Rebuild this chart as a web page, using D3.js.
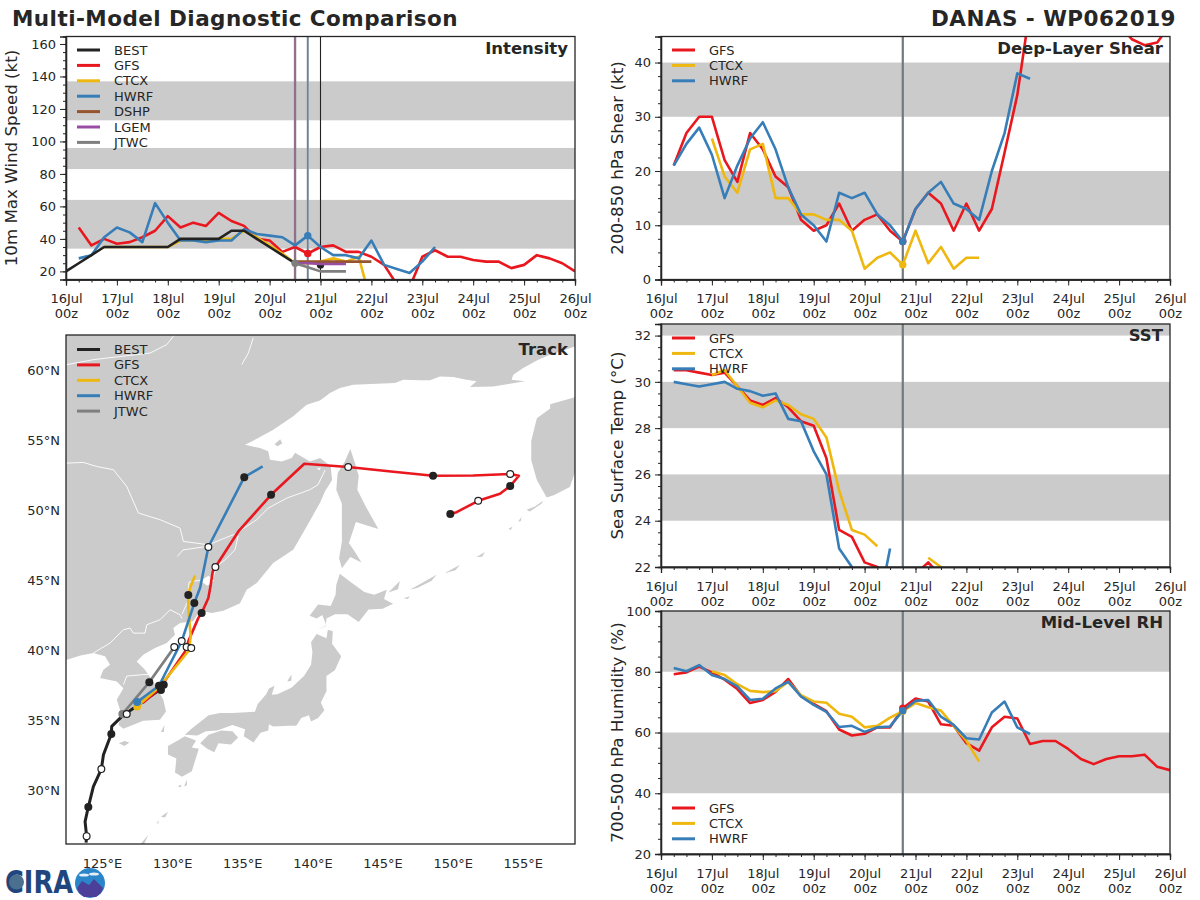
<!DOCTYPE html>
<html>
<head>
<meta charset="utf-8">
<script src="https://cdn.jsdelivr.net/npm/d3@7"></script>
<style>
  html, body { margin: 0; padding: 0; background: #fff; }
  text { font-family: "DejaVu Sans", sans-serif; fill: #262626; }
</style>
</head>
<body>
<div class="canvas"></div>
<script>
// forecast values, one entry per 6 h starting 16 Jul 00z (null = no data)
const stepHours = 6;
const startTime = Date.UTC(2019, 6, 16, 0);
const endTime = Date.UTC(2019, 6, 26, 0);

const windBest = [20, 25, 30, 35, 35, 35, 35, 35, 35, 40, 40, 40, 40, 45, 45, 40, 35, 30, 25];
const windGfs = [null, 47, 36, 40, 37, 38, 41, 45, 54, 47, 50, 48, 56, 51, 48, 40, 39, 32, 35, 31, 35, 36, 32, 32, 29, 24, 12, 10, 29, 33, 29, 29, 27, 26, 26, 22, 24, 30, 28, 25, 20];
const windCtcx = [null, null, null, 35, 35, 35, 35, 35, 35, 39, 39, 39, 40, 40, 45, 41, 36, 31, 25, 25, 26, 28, 26, 29, 0];
const windHwrf = [null, 28, 30, 41, 47, 44, 38, 62, 50, 39, 39, 38, 39, 39, 46, 43, 42, 41, 36, 42, 35, 30, 30, 28, 39, 24, 21.5, 19, 26, 35];
const windDshp = [null, null, null, null, null, null, null, null, null, null, null, null, null, null, null, null, null, null, 26, 26, 26, 26, 26, 26, 26];
const windLgem = [null, null, null, null, null, null, null, null, null, null, null, null, null, null, null, null, null, null, 25, 25, 24.5, 24.5, 24.5];
const windJtwc = [null, null, null, null, null, null, null, null, null, null, null, null, null, null, null, null, null, null, 25, 22.5, 20, 20, 20];

const shearGfs = [null, 21, 27, 30, 30, 22, 18, 27, 24, 19, 17, 11, 9, 10, 14, 9, 11, 12, 9, 7, 13, 16, 14, 9, 14, 9, 13, 23.4, 34, 50, 55, 58, 58, 56, 54, 52, 47, 44.3, 43.2, 43.7, 47];
const shearCtcx = [null, null, null, null, 26, 19, 16, 24, 25, 15, 15, 12, 12, 11, 11, 9, 2, 4, 5, 2.7, 9, 3, 6, 2, 4, 4];
const shearHwrf = [null, 21, 25, 28, 23, 15, 21, 26, 29, 24, 17, 12, 10, 7, 16, 15, 16, 12, 10, 7, 13, 16, 18, 14, 13, 11, 20, 27, 38, 37];

const sstGfs = [null, 30.5, 30.5, 30.4, 30.3, 30.4, 29.8, 29.2, 29.0, 29.3, 28.9, 28.3, 28.1, 26.7, 23.6, 23.3, 22.2, 22.0, 21.5, 21.5, 21.7, 22.2, 21.6, 21.4];
const sstCtcx = [null, null, null, null, 30.3, 30.5, 29.8, 29.1, 28.9, 29.2, 29.0, 28.6, 28.4, 27.6, 25.3, 23.6, 23.4, 22.9, null, null, null, 22.4, 22.0, 21.5];
const sstHwrf = [null, 30.0, 29.9, 29.8, 29.9, 30.0, 29.7, 29.6, 29.4, 29.5, 28.4, 28.3, 27.0, 26.0, 22.8, 22.0, 20.5, 20.0, 22.8];

const rhGfs = [null, 79.2, 79.8, 81.7, 79.8, 77.4, 74.3, 69.7, 70.7, 73.4, 77.6, 72, 69.4, 67, 61, 59, 59.6, 61.7, 61.7, 68, 71.2, 70.2, 62.7, 62.2, 56.5, 54, 61.7, 65.2, 64.6, 56.2, 57.2, 57.2, 54.6, 51.3, 49.6, 51.3, 52.2, 52.2, 52.7, 48.7, 47.6];
const rhCtcx = [null, null, null, null, 80.2, 78.9, 75.9, 73.7, 73.3, 73.6, 76.7, 72.3, 70.2, 69.8, 66.2, 65.2, 61.7, 62.2, 64.9, 67, 69.7, 68.3, 67.2, 62.2, 57.3, 50.4];
const rhHwrf = [null, 81.2, 80.2, 82.2, 78.9, 77.6, 75.2, 70.7, 71.1, 74.5, 76.7, 71.9, 69.1, 66.8, 61.8, 62.2, 60.2, 61.7, 62, 67.2, 70.4, 70.7, 65.2, 62.5, 58.1, 57.7, 66.6, 70.2, 61.7, 59.5];

// [model, step, value] dots at each model's initial time
const windDots = [['GFS', 19, 31], ['HWRF', 19, 42], ['JTWC', 18, 25]];
const windLowDots = [['BEST', 20, 24]];
const shearDots = [['GFS', 19, 7], ['CTCX', 19, 2.7], ['HWRF', 19, 7]];
const rhDots = [['GFS', 19, 68], ['CTCX', 19, 67], ['HWRF', 19, 67.2]];

const windBands = [[34, 64], [83, 96], [113, 137]];
const shearBands = [[10, 20], [30, 40]];
const sstBands = [[24, 26], [28, 30], [32, 33]];
const rhBands = [[40, 60], [80, 100]];

const windTicks = [20, 40, 60, 80, 100, 120, 140, 160];
const shearTicks = [0, 10, 20, 30, 40];
const sstTicks = [22, 24, 26, 28, 30, 32];
const rhTicks = [20, 40, 60, 80, 100];

const latTicks = [30, 35, 40, 45, 50, 55, 60];
const lonTicks = [125, 130, 135, 140, 145, 150, 155];

// tracks, [lon, lat]
const trackBest = [[123.86, 26.3], [123.9, 26.76], [123.79, 27.8], [124.02, 28.84], [124.38, 30.3], [124.95, 31.55], [125.1, 32.57], [125.66, 34.05], [125.69, 34.6], [126.4, 35.3], [127.59, 36.14], [129.0, 37.14], [129.2, 37.2]];
const trackGfs = [[127.9, 36.26], [129.1, 37.3], [130.92, 39.95], [131.15, 40.67], [131.86, 42.33], [132.1, 42.7], [132.58, 43.77], [132.75, 44.72], [132.89, 45.66], [133.08, 45.98], [134.72, 48.52], [137.05, 51.14], [139.42, 53.36], [142.55, 53.12], [145.6, 52.8], [148.6, 52.5], [151.46, 52.52], [154.1, 52.62], [154.72, 52.5], [154.1, 51.76], [153.37, 51.21], [151.82, 50.71], [150.28, 49.9], [149.83, 49.76]];
const trackCtcx = [[127.5, 36.02], [129.06, 37.4], [131.2, 40.02], [131.32, 41.02], [131.15, 43.05], [131.15, 43.98], [131.27, 44.48], [131.63, 45.38]];
const trackHwrf = [[127.5, 36.34], [129.06, 37.5], [130.68, 40.69], [131.58, 43.41], [131.99, 44.5], [132.58, 47.41], [135.14, 52.4], [136.45, 53.16]];
const trackJtwc = [[126.45, 35.48], [128.37, 37.76], [130.15, 40.26]];

// 12-hourly position dots along the tracks
const dotsOpen = [[123.9, 26.76], [124.95, 31.55], [126.76, 35.48], [131.03, 40.26], [133.08, 45.98], [142.55, 53.12], [154.1, 52.62], [151.82, 50.71], [131.36, 40.19], [130.68, 40.69], [132.58, 47.41], [130.15, 40.26]];
const dotsFilled = [[124.02, 28.84], [125.66, 34.05], [129.2, 37.2], [129.4, 37.57], [132.1, 42.7], [137.05, 51.14], [148.6, 52.5], [154.1, 51.76], [149.83, 49.76], [129.06, 37.5], [131.15, 43.98], [131.58, 43.41], [135.14, 52.4], [128.37, 37.76]];
const dotsStart = [['CTCX', 127.5, 36.02], ['HWRF', 127.5, 36.34], ['JTWC', 126.45, 35.48]];

// land outlines, [lon, lat]
const mainland = [[165, 61.74], [158.73, 61.74], [156.93, 61.14], [156.1, 60.79], [155.03, 60.19], [154.32, 59.71], [154.2, 59.36], [155.15, 59.24], [154.08, 59.07], [152.89, 58.88], [151.23, 58.84], [151.7, 59.24], [150.99, 59.36], [150.04, 59.55], [149.09, 59.59], [148.38, 59.31], [147.67, 59.31], [146.48, 59.36], [145.88, 59.12], [142.91, 59.0], [141.96, 58.76], [141.25, 58.41], [140.54, 57.88], [139.59, 57.57], [138.63, 56.74], [137.21, 55.79], [135.67, 54.95], [135.19, 54.71], [136.26, 54.48], [136.85, 54.24], [136.97, 53.64], [137.8, 53.52], [138.52, 53.76], [138.76, 54.14], [139.82, 53.52], [140.54, 53.76], [141.3, 53.2], [141.4, 52.2], [140.9, 51.4], [140.54, 50.57], [139.6, 48.9], [138.63, 47.21], [137.2, 46.26], [136.03, 44.84], [135.31, 44.36], [134.84, 43.4], [133.65, 42.86], [132.82, 42.69], [131.98, 42.86], [131.5, 42.1], [130.56, 41.98], [130.08, 41.62], [130.2, 41.14], [129.61, 40.55], [128.78, 40.2], [127.94, 39.71], [127.47, 39.24], [128.06, 38.64], [128.78, 37.57], [129.37, 36.5], [129.56, 35.66], [129.13, 35.07], [127.94, 35.0], [126.52, 34.43], [126.17, 34.71], [126.4, 35.43], [126.05, 36.5], [126.52, 37.33], [126.05, 37.81], [124.86, 38.05], [125.09, 38.64], [125.57, 39.0], [125.21, 39.6], [124.38, 39.84], [123.46, 39.66], [122.5, 39.36], [120, 39.36], [120, 65], [165, 65]];
const kamchatka = [[165, 58.1], [158.7, 58.1], [156.95, 57.6], [156.95, 57.3], [156.0, 56.6], [155.6, 55], [155.6, 53.6], [156.0, 52.2], [156.7, 50.95], [157.2, 51.1], [158.35, 51.7], [158.7, 52.7], [165, 53]];
const honshu = [[130.9, 34.0], [131.4, 34.45], [132.6, 35.4], [133.4, 35.55], [134.3, 35.55], [135.3, 35.6], [135.9, 35.65], [136.1, 36.2], [136.7, 36.9], [136.9, 37.3], [137.3, 37.5], [137.1, 36.85], [137.5, 36.9], [138.5, 37.35], [139.4, 38.2], [139.9, 39.0], [140.0, 39.9], [139.9, 40.6], [140.3, 41.2], [141.0, 40.9], [141.1, 41.5], [141.45, 41.4], [141.4, 40.5], [142.05, 39.6], [141.6, 38.6], [141.0, 38.2], [141.0, 37.1], [140.6, 36.3], [140.85, 35.75], [140.4, 35.2], [139.9, 34.95], [139.75, 35.4], [139.2, 35.2], [138.85, 34.65], [138.3, 34.65], [137.2, 34.6], [136.9, 34.75], [136.85, 34.3], [136.3, 34.15], [135.8, 33.45], [135.1, 33.9], [135.2, 34.4], [134.3, 34.7], [133.2, 34.3], [132.4, 34.25], [131.8, 33.95]];
const hokkaido = [[140.3, 41.5], [141.0, 41.8], [140.7, 42.55], [140.3, 42.3], [139.8, 42.5], [140.4, 43.3], [141.3, 43.2], [141.65, 44.0], [141.7, 44.7], [141.95, 45.5], [142.6, 45.0], [143.7, 44.2], [144.4, 44.0], [145.3, 44.35], [145.1, 43.7], [145.75, 43.35], [145.0, 43.0], [144.0, 42.95], [143.3, 42.05], [142.5, 42.6], [141.6, 42.6], [141.0, 42.3], [140.95, 41.75]];
const sakhalin = [[142.7, 54.4], [143.0, 53.5], [143.3, 52.5], [143.2, 51.5], [143.8, 50.3], [144.7, 48.7], [143.1, 49.2], [142.6, 47.7], [143.0, 47.1], [143.5, 46.3], [142.7, 46.7], [142.1, 45.9], [141.9, 46.6], [142.1, 47.8], [142.1, 49.0], [142.1, 50.5], [141.7, 51.5], [141.8, 52.7], [142.3, 53.5]];
const kyushu = [[130.9, 33.9], [131.7, 33.6], [131.4, 33.1], [131.9, 33.0], [131.4, 31.4], [130.7, 31.0], [130.2, 31.3], [130.3, 32.3], [129.7, 32.6], [129.7, 33.2], [130.4, 33.6]];
const shikoku = [[132.0, 33.4], [132.6, 34.0], [133.5, 34.3], [134.3, 34.25], [134.7, 33.8], [134.2, 33.3], [133.3, 33.4], [133.0, 32.75], [132.5, 33.0]];
const smallIslands = [
  [[126.2, 33.4], [126.6, 33.55], [126.95, 33.45], [126.6, 33.2]],
  [[129.2, 34.2], [129.45, 34.7], [129.4, 34.2]],
  [[138.2, 37.8], [138.5, 38.3], [138.5, 37.85]],
  [[130.85, 30.3], [131.05, 30.8], [131.05, 30.4]],
  [[130.4, 30.3], [130.6, 30.45], [130.65, 30.25]],
  [[129.2, 28.15], [129.7, 28.5], [129.5, 28.1]],
  [[128.9, 27.7], [129.05, 27.9], [129.0, 27.65]],
  [[127.7, 26.15], [128.3, 26.85], [128.0, 26.2]],
  [[137.3, 54.75], [137.7, 55.1], [137.85, 54.8], [137.5, 54.6]],
  [[155.27, 50.07], [155.86, 50.3], [156.45, 50.71], [156.33, 50.5], [155.5, 49.95]],
  [[154.67, 49.24], [154.9, 49.55], [154.85, 49.25]],
  [[153.96, 48.69], [154.27, 48.88], [154.15, 48.65]],
  [[151.7, 46.69], [152.3, 47.05], [152.1, 46.72]],
  [[149.45, 45.55], [150.52, 46.14], [150.2, 45.75]],
  [[146.95, 44.36], [148.85, 45.43], [148.5, 45.0], [147.5, 44.5]],
  [[145.41, 44.16], [146.24, 44.98], [146.1, 44.4]],
  [[146.5, 43.75], [146.95, 43.9], [146.8, 43.7]]
];
const lakes = [
  [[132.0, 45.0], [132.6, 45.35], [133.0, 45.0], [132.5, 44.65]],
  [[140.3, 53.0], [140.6, 53.1], [140.5, 52.9]]
];

// rivers and borders, white lines on the land
const borderLines = [
  [[122.48, 60.43], [124.38, 60.79], [128.42, 61.26], [129.61, 61.86], [130.08, 62.45], [130.3, 62.8]],
  [[135.78, 62.34], [135.43, 61.26], [134.96, 60.43]],
  [[122.48, 53.4], [123.67, 53.45], [124.62, 53.16], [125.81, 52.93], [126.76, 51.74], [127.59, 49.84], [129.13, 49.36], [130.56, 48.76], [130.8, 47.81], [132.58, 47.57], [134.36, 48.29], [134.71, 48.17], [134.67, 48.05], [134.48, 47.21], [133.77, 46.5], [133.18, 46.02], [132.9, 45.2], [131.2, 44.9], [131.1, 43.5], [130.7, 42.6]],
  [[134.76, 48.52], [136.03, 49.36], [136.85, 50.19], [138.17, 50.9], [139.82, 51.5], [140.4, 51.86], [140.9, 52.9]],
  [[130.37, 46.74], [130.77, 47.2], [132.46, 47.45]],
  [[124.38, 39.84], [125.57, 40.55], [126.52, 41.5], [127.0, 41.62], [127.23, 41.26], [128.06, 41.26], [128.19, 41.86], [129.13, 42.21], [129.85, 42.93], [130.56, 42.57], [130.7, 42.3]],
  [[126.52, 37.57], [126.76, 38.19], [127.94, 38.3], [128.3, 38.3]]
];

const names = ['BEST', 'GFS', 'CTCX', 'HWRF', 'DSHP', 'LGEM', 'JTWC'];
const colors = ['#222222', '#e9171e', '#efb810', '#377eb8', '#96552e', '#984ea3', '#7f7f7f'];
const color = d3.scaleOrdinal().domain(names).range(colors);

const ink = '#262626';
const bandFill = '#cbcbcb';

const svg = d3
  .select('.canvas')
  .append('svg')
  .attr('width', 1200)
  .attr('height', 900)
  .style('display', 'block');

svg
  .append('text')
  .attr('x', 12)
  .attr('y', 25.5)
  .attr('font-size', 21.5)
  .attr('font-weight', 'bold')
  .attr('letter-spacing', 0.45)
  .text('Multi-Model Diagnostic Comparison');

svg
  .append('text')
  .attr('x', 1176)
  .attr('y', 25.5)
  .attr('text-anchor', 'end')
  .attr('font-size', 21.5)
  .attr('font-weight', 'bold')
  .attr('letter-spacing', 0.45)
  .text('DANAS - WP062019');

const timeAt = (i) => new Date(startTime + i * stepHours * 3600 * 1000);

function legend(g, x0, y0, dy, list) {
  list.forEach((name, i) => {
    g.append('line')
      .attr('x1', x0)
      .attr('x2', x0 + 23)
      .attr('y1', y0 + i * dy)
      .attr('y2', y0 + i * dy)
      .attr('stroke', color(name))
      .attr('stroke-width', 3);
    g.append('text')
      .attr('x', x0 + 37)
      .attr('y', y0 + i * dy + 4.5)
      .attr('font-size', 13)
      .text(name);
  });
}

function drawPanel(cfg) {
  const { left, top, width, height } = cfg;
  const x = d3.scaleUtc().domain([startTime, endTime]).range([0, width]);
  const y = d3.scaleLinear().domain(cfg.yDomain).range([height, 0]);

  const g = svg.append('g').attr('transform', `translate(${left},${top})`);
  const clipId = 'clip-' + cfg.id;
  g.append('clipPath')
    .attr('id', clipId)
    .append('rect')
    .attr('width', width)
    .attr('height', height);

  const inner = g.append('g').attr('clip-path', `url(#${clipId})`);

  inner
    .selectAll('rect.band')
    .data(cfg.bands)
    .join('rect')
    .attr('class', 'band')
    .attr('x', 0)
    .attr('width', width)
    .attr('y', (d) => y(d[1]))
    .attr('height', (d) => y(d[0]) - y(d[1]))
    .attr('fill', bandFill);

  // initial time markers
  cfg.rules.forEach((r) => {
    inner
      .append('line')
      .attr('x1', x(timeAt(r.step)))
      .attr('x2', x(timeAt(r.step)))
      .attr('y1', 0)
      .attr('y2', height)
      .attr('stroke', r.color)
      .attr('stroke-width', r.width);
  });

  const drawDots = (list, cls) =>
    inner
      .selectAll('circle.' + cls)
      .data(list)
      .join('circle')
      .attr('class', cls)
      .attr('cx', (d) => x(timeAt(d[1])))
      .attr('cy', (d) => y(d[2]))
      .attr('r', 3.7)
      .attr('fill', (d) => color(d[0]));

  drawDots(cfg.lowDots || [], 'low');

  const line = d3
    .line()
    .defined((d) => d != null)
    .x((d, i) => x(timeAt(i)))
    .y((d) => y(d));

  cfg.series.forEach((s) => {
    inner
      .append('path')
      .datum(s.values)
      .attr('fill', 'none')
      .attr('stroke', color(s.name))
      .attr('stroke-width', 2.6)
      .attr('stroke-linejoin', 'round')
      .attr('d', line);
  });

  drawDots(cfg.dots, 'top');

  const days = d3.utcDay.range(new Date(startTime), new Date(endTime + 1));
  const sixHours = d3.utcHour.every(6).range(new Date(startTime), new Date(endTime + 1));

  const xMinor = g.append('g').attr('transform', `translate(0,${height})`);
  xMinor.call(d3.axisBottom(x).tickValues(sixHours).tickSize(3).tickFormat(''));
  const xAxis = g.append('g').attr('transform', `translate(0,${height})`);
  xAxis.call(d3.axisBottom(x).tickValues(days).tickSize(6).tickPadding(5).tickFormat(d3.utcFormat('%d%b')));

  // two line tick labels, 16Jul over 00z
  xAxis.selectAll('.tick text').each(function (d) {
    const t = d3.select(this);
    t.text(null).attr('dy', null).attr('y', 0);
    t.append('tspan').attr('x', 0).attr('y', 23.5).text(d3.utcFormat('%d%b')(d));
    t.append('tspan').attr('x', 0).attr('y', 38.5).text('00z');
  });

  const yMinorTicks = d3.range(cfg.yTicks[0], cfg.yDomain[1] + 0.001, (cfg.yTicks[1] - cfg.yTicks[0]) / 4);
  g.append('g').call(d3.axisLeft(y).tickValues(yMinorTicks).tickSize(3).tickFormat(''));
  g.append('g').call(d3.axisLeft(y).tickValues(cfg.yTicks).tickSize(6).tickPadding(4));

  g.selectAll('.domain').attr('stroke', ink).attr('stroke-width', 1.3);
  g.selectAll('.tick line').attr('stroke', ink).attr('stroke-width', 1);
  g.selectAll('.tick text').attr('font-size', 13).attr('fill', ink);

  // frame
  g.append('rect')
    .attr('width', width)
    .attr('height', height)
    .attr('fill', 'none')
    .attr('stroke', ink)
    .attr('stroke-width', 1.3);

  g.append('text')
    .attr('transform', `translate(${cfg.labelX},${height / 2}) rotate(-90)`)
    .attr('text-anchor', 'middle')
    .attr('font-size', 16.7)
    .text(cfg.yLabel);

  g.append('text')
    .attr('x', width - 7)
    .attr('y', cfg.titleY)
    .attr('text-anchor', 'end')
    .attr('font-size', 16.5)
    .attr('font-weight', 'bold')
    .text(cfg.title);

  legend(g, 11, cfg.legendY, 15.4, cfg.legend);
}

const wrapRules = [
  { step: 19, color: '#927660', width: 2.2 },
  { step: 19, color: '#377eb8', width: 0.5 }
];

drawPanel({
  id: 'wind',
  left: 66,
  top: 36.5,
  width: 509,
  height: 243,
  yDomain: [15, 164.6],
  yTicks: windTicks,
  bands: windBands,
  yLabel: '10m Max Wind Speed (kt)',
  labelX: -49,
  title: 'Intensity',
  titleY: 17,
  legendY: 13.5,
  legend: names,
  rules: [
    { step: 18, color: '#8f8585', width: 2.4 },
    { step: 18, color: '#984ea3', width: 0.8 },
    { step: 19, color: '#a9a9a9', width: 2.2 },
    { step: 19, color: '#377eb8', width: 1 },
    { step: 20, color: '#222222', width: 1.1 }
  ],
  series: [
    { name: 'GFS', values: windGfs },
    { name: 'CTCX', values: windCtcx },
    { name: 'HWRF', values: windHwrf },
    { name: 'BEST', values: windBest },
    { name: 'DSHP', values: windDshp },
    { name: 'LGEM', values: windLgem },
    { name: 'JTWC', values: windJtwc }
  ],
  dots: windDots,
  lowDots: windLowDots
});

drawPanel({
  id: 'shear',
  left: 661,
  top: 36.5,
  width: 509,
  height: 243,
  yDomain: [0, 44.8],
  yTicks: shearTicks,
  bands: shearBands,
  yLabel: '200-850 hPa Shear (kt)',
  labelX: -38,
  title: 'Deep-Layer Shear',
  titleY: 17,
  legendY: 13.5,
  legend: ['GFS', 'CTCX', 'HWRF'],
  rules: wrapRules,
  series: [
    { name: 'GFS', values: shearGfs },
    { name: 'CTCX', values: shearCtcx },
    { name: 'HWRF', values: shearHwrf }
  ],
  dots: shearDots
});

drawPanel({
  id: 'sst',
  left: 661,
  top: 324,
  width: 509,
  height: 243,
  yDomain: [22, 32.5],
  yTicks: sstTicks,
  bands: sstBands,
  yLabel: 'Sea Surface Temp (°C)',
  labelX: -38,
  title: 'SST',
  titleY: 17,
  legendY: 14,
  legend: ['GFS', 'CTCX', 'HWRF'],
  rules: wrapRules,
  series: [
    { name: 'GFS', values: sstGfs },
    { name: 'CTCX', values: sstCtcx },
    { name: 'HWRF', values: sstHwrf }
  ],
  dots: []
});

drawPanel({
  id: 'rh',
  left: 661,
  top: 611,
  width: 509,
  height: 243,
  yDomain: [20, 100],
  yTicks: rhTicks,
  bands: rhBands,
  yLabel: '700-500 hPa Humidity (%)',
  labelX: -38,
  title: 'Mid-Level RH',
  titleY: 17,
  legendY: 197,
  legend: ['GFS', 'CTCX', 'HWRF'],
  rules: wrapRules,
  series: [
    { name: 'GFS', values: rhGfs },
    { name: 'CTCX', values: rhCtcx },
    { name: 'HWRF', values: rhHwrf }
  ],
  dots: rhDots
});

// logo, drawn first so the lon labels sit over it
const logo = svg.append('g').attr('transform', 'translate(0,860)');
logo
  .append('text')
  .attr('x', 5)
  .attr('y', 33)
  .attr('font-family', 'Liberation Sans')
  .attr('font-size', 32)
  .attr('font-weight', 'bold')
  .style('fill', '#21467e')
  .attr('textLength', 68)
  .attr('lengthAdjust', 'spacingAndGlyphs')
  .text('CIRA');
logo
  .append('circle')
  .attr('cx', 16.5)
  .attr('cy', 22)
  .attr('r', 7.5)
  .attr('fill', '#4b6f8e');
logo
  .append('circle')
  .attr('cx', 90)
  .attr('cy', 23)
  .attr('r', 15)
  .attr('fill', '#2b86c9');
logo
  .append('path')
  .attr('d', d3.line()(d3.zip([77, 82, 89, 94, 103, 101, 96, 84, 79], [28, 21, 25, 19, 28, 33, 37, 37, 33])))
  .attr('fill', '#4b3f9a');
logo
  .append('ellipse')
  .attr('cx', 84)
  .attr('cy', 15)
  .attr('rx', 5)
  .attr('ry', 1.6)
  .attr('fill', '#e4eef7');
logo
  .append('ellipse')
  .attr('cx', 94)
  .attr('cy', 14)
  .attr('rx', 5)
  .attr('ry', 1.6)
  .attr('fill', '#e4eef7');

// track map
const mapSize = 509;
const lonScale = d3.scaleLinear().domain([122.43, 158.72]).range([0, mapSize]);
const latScale = d3.scaleLinear().domain([26.2, 62.55]).range([mapSize, 0]);
const mapLine = d3
  .line()
  .x((d) => lonScale(d[0]))
  .y((d) => latScale(d[1]));

const map = svg.append('g').attr('transform', 'translate(66,335)');
map
  .append('clipPath')
  .attr('id', 'clip-map')
  .append('rect')
  .attr('width', mapSize)
  .attr('height', mapSize);

const mapInner = map.append('g').attr('clip-path', 'url(#clip-map)');

const landShapes = [mainland, kamchatka, honshu, hokkaido, sakhalin, kyushu, shikoku].concat(smallIslands);
mapInner
  .selectAll('path.land')
  .data(landShapes)
  .join('path')
  .attr('class', 'land')
  .attr('d', (d) => mapLine(d) + 'Z')
  .attr('fill', bandFill);

mapInner
  .selectAll('path.lake')
  .data(lakes)
  .join('path')
  .attr('class', 'lake')
  .attr('d', (d) => mapLine(d) + 'Z')
  .attr('fill', '#ffffff');

mapInner
  .selectAll('path.border')
  .data(borderLines)
  .join('path')
  .attr('class', 'border')
  .attr('d', mapLine)
  .attr('fill', 'none')
  .attr('stroke', '#ffffff')
  .attr('stroke-width', 0.9);

[
  ['BEST', trackBest],
  ['GFS', trackGfs],
  ['CTCX', trackCtcx],
  ['HWRF', trackHwrf],
  ['JTWC', trackJtwc]
].forEach(([name, pts]) => {
  mapInner
    .append('path')
    .datum(pts)
    .attr('d', mapLine)
    .attr('fill', 'none')
    .attr('stroke', color(name))
    .attr('stroke-width', name === 'BEST' ? 3 : 2.6)
    .attr('stroke-linejoin', 'round');
});

mapInner
  .selectAll('circle.start')
  .data(dotsStart)
  .join('circle')
  .attr('class', 'start')
  .attr('cx', (d) => lonScale(d[1]))
  .attr('cy', (d) => latScale(d[2]))
  .attr('r', 4)
  .attr('fill', (d) => color(d[0]));

mapInner
  .selectAll('circle.filled')
  .data(dotsFilled)
  .join('circle')
  .attr('class', 'filled')
  .attr('cx', (d) => lonScale(d[0]))
  .attr('cy', (d) => latScale(d[1]))
  .attr('r', 4)
  .attr('fill', '#222222');

mapInner
  .selectAll('circle.open')
  .data(dotsOpen)
  .join('circle')
  .attr('class', 'open')
  .attr('cx', (d) => lonScale(d[0]))
  .attr('cy', (d) => latScale(d[1]))
  .attr('r', 3.4)
  .attr('fill', '#ffffff')
  .attr('stroke', '#222222')
  .attr('stroke-width', 1.2);

const lonAxis = map
  .append('g')
  .attr('transform', `translate(0,${mapSize})`)
  .call(d3.axisBottom(lonScale).tickValues(lonTicks).tickSize(0).tickPadding(15).tickFormat((d) => d + '°E'));
const latAxis = map
  .append('g')
  .call(d3.axisLeft(latScale).tickValues(latTicks).tickSize(0).tickPadding(6).tickFormat((d) => d + '°N'));
lonAxis.select('.domain').remove();
latAxis.select('.domain').remove();
map.selectAll('.tick text').attr('font-size', 13).attr('fill', ink);

map
  .append('rect')
  .attr('width', mapSize)
  .attr('height', mapSize)
  .attr('fill', 'none')
  .attr('stroke', ink)
  .attr('stroke-width', 1.3);

map
  .append('text')
  .attr('x', mapSize - 7)
  .attr('y', 20)
  .attr('text-anchor', 'end')
  .attr('font-size', 16.5)
  .attr('font-weight', 'bold')
  .text('Track');

legend(map, 11, 14.5, 15.4, ['BEST', 'GFS', 'CTCX', 'HWRF', 'JTWC']);
</script>
</body>
</html>
